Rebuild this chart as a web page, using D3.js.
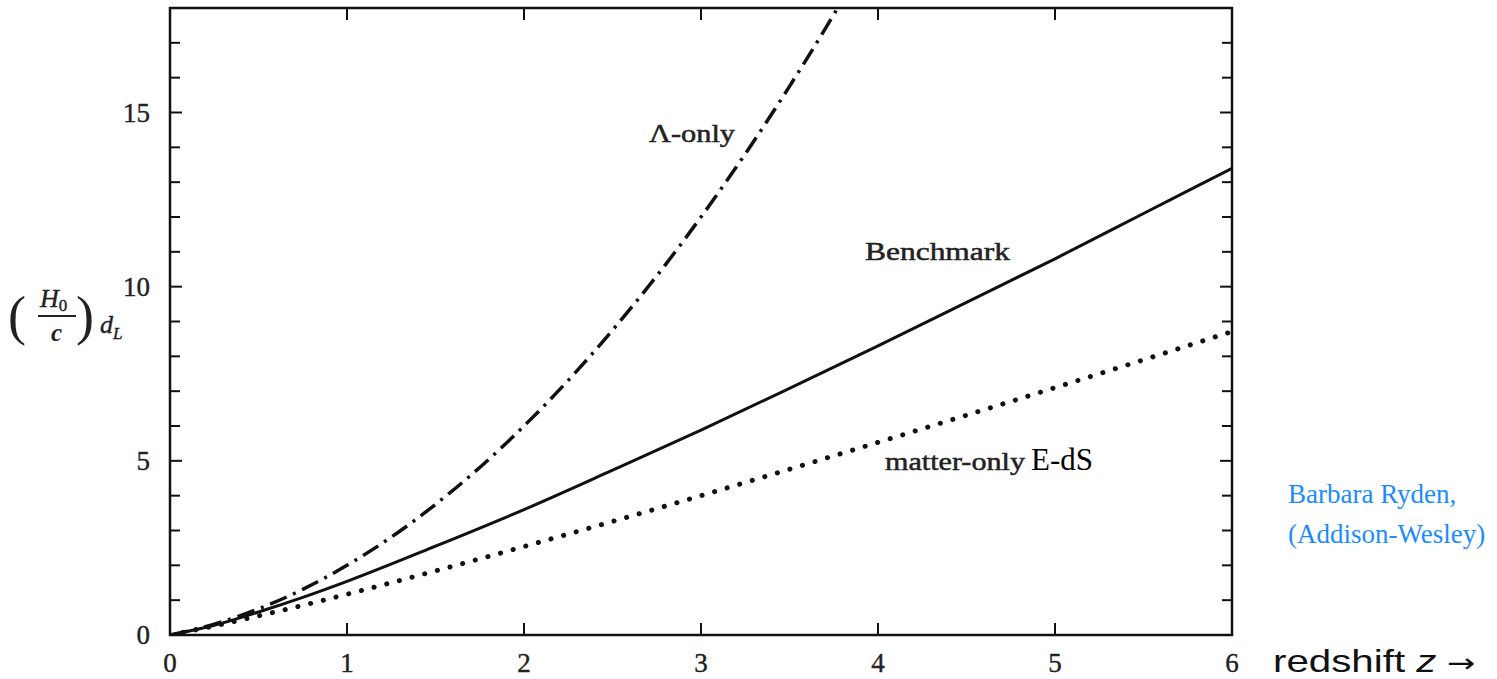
<!DOCTYPE html>
<html>
<head>
<meta charset="utf-8">
<script src="https://cdn.jsdelivr.net/npm/d3@7"></script>
<style>
  body { margin: 0; background: #fff; overflow: hidden; }
  svg { display: block; }
</style>
</head>
<body>
<div id="chart"></div>
<script>
// Data (H0/c) dL against redshift z
var zBench = [0, 0.25, 0.5, 0.75, 1, 1.5, 2, 2.5, 3, 3.5, 4, 4.5, 5, 5.5, 6];
var dBench = [0, 0.28, 0.66, 1.08, 1.54, 2.55, 3.6, 4.73, 5.88, 7.08, 8.3, 9.55, 10.8, 12.1, 13.4];

var zLambda = [0, 0.25, 0.5, 0.75, 1, 1.25, 1.5, 1.75, 2, 2.25, 2.5, 2.75, 3, 3.25, 3.5, 3.75, 3.85];
var dLambda = [0, 0.31, 0.75, 1.31, 2, 2.81, 3.75, 4.81, 6, 7.31, 8.75, 10.31, 12, 13.81, 15.75, 17.81, 18.67];

var zMatter = [0, 0.25, 0.5, 0.75, 1, 1.5, 2, 2.5, 3, 3.5, 4, 4.5, 5, 5.5, 6];
var dMatter = [0, 0.26, 0.55, 0.85, 1.17, 1.84, 2.54, 3.26, 4.0, 4.76, 5.53, 6.31, 7.1, 7.9, 8.71];

var xTicks = [0, 1, 2, 3, 4, 5, 6];
var yTicks = [0, 5, 10, 15];
var yMinor = d3.range(0, 19, 1);

var svgWidth = 1497;
var svgHeight = 679;

var svg = d3.select("#chart").append("svg")
  .attr("width", svgWidth)
  .attr("height", svgHeight);

var x = d3.scaleLinear().domain([0, 6]).range([170, 1232]);
var y = d3.scaleLinear().domain([0, 18]).range([635, 8]);

var serif = "'Liberation Serif', 'DejaVu Serif', serif";

// clip for curves
svg.append("clipPath").attr("id", "plotclip")
  .append("rect")
  .attr("x", x(0)).attr("y", y(18))
  .attr("width", x(6) - x(0)).attr("height", y(0) - y(18));

// frame
svg.append("rect")
  .attr("x", x(0)).attr("y", y(18))
  .attr("width", x(6) - x(0)).attr("height", y(0) - y(18))
  .attr("fill", "none")
  .attr("stroke", "#111")
  .attr("stroke-width", 2.5);

// inner ticks: bottom & top
var tickG = svg.append("g").attr("stroke", "#111").attr("stroke-width", 2);
xTicks.slice(1, -1).forEach(function (t) {
  tickG.append("line").attr("x1", x(t)).attr("x2", x(t)).attr("y1", y(0)).attr("y2", y(0) - 12);
  tickG.append("line").attr("x1", x(t)).attr("x2", x(t)).attr("y1", y(18)).attr("y2", y(18) + 12);
});
// left & right ticks
yMinor.slice(1, -1).forEach(function (t) {
  var len = (t % 5 === 0) ? 12 : 10;
  tickG.append("line").attr("x1", x(0)).attr("x2", x(0) + len).attr("y1", y(t)).attr("y2", y(t));
  tickG.append("line").attr("x1", x(6)).attr("x2", x(6) - len).attr("y1", y(t)).attr("y2", y(t));
});

// tick labels
svg.append("g").selectAll("text").data(xTicks).enter().append("text")
  .attr("x", function (d) { return x(d); })
  .attr("y", 672)
  .attr("text-anchor", "middle")
  .attr("font-family", serif)
  .attr("font-size", "27px")
  .attr("fill", "#222")
  .attr("stroke", "#222").attr("stroke-width", 0.4)
  .text(function (d) { return d; });

svg.append("g").selectAll("text").data(yTicks).enter().append("text")
  .attr("x", 150)
  .attr("y", function (d) { return y(d); })
  .attr("dy", "0.35em")
  .attr("text-anchor", "end")
  .attr("font-family", serif)
  .attr("font-size", "27px")
  .attr("fill", "#222")
  .attr("stroke", "#222").attr("stroke-width", 0.4)
  .text(function (d) { return d; });

// curves
var line = d3.line().x(function (d) { return x(d[0]); }).y(function (d) { return y(d[1]); }).curve(d3.curveMonotoneX);
var curves = svg.append("g").attr("clip-path", "url(#plotclip)");

curves.append("path")
  .datum(d3.zip(zBench, dBench))
  .attr("d", line)
  .attr("fill", "none")
  .attr("stroke", "#111")
  .attr("stroke-width", 3);

curves.append("path")
  .datum(d3.zip(zLambda, dLambda))
  .attr("d", line)
  .attr("fill", "none")
  .attr("stroke", "#111")
  .attr("stroke-width", 3.5)
  .attr("stroke-dasharray", "18 7 3 7");

curves.append("path")
  .datum(d3.zip(zMatter, dMatter))
  .attr("d", line)
  .attr("fill", "none")
  .attr("stroke", "#111")
  .attr("stroke-width", 5)
  .attr("stroke-linecap", "round")
  .attr("stroke-dasharray", "0.1 13");

// curve labels (scanned, slightly heavy and wide)
function label(txt, lx, ly, size, len) {
  var t = svg.append("text")
    .attr("x", lx).attr("y", ly)
    .attr("font-family", serif)
    .attr("font-size", size)
    .attr("fill", "#222")
    .attr("stroke", "#222").attr("stroke-width", 0.5)
    .text(txt);
  if (len) t.attr("textLength", len).attr("lengthAdjust", "spacingAndGlyphs");
  return t;
}
label("\u039B-only", 649, 142, "25px", 86);
label("Benchmark", 865, 260, "25px", 145);
label("matter-only", 885, 470, "25px", 140);

svg.append("text")
  .attr("x", 1031).attr("y", 470)
  .attr("font-family", serif).attr("font-size", "31px").attr("fill", "#000")
  .text("E-dS");

// source note
svg.append("g").selectAll("text")
  .data(["Barbara Ryden,", "(Addison-Wesley)"])
  .enter().append("text")
  .attr("x", 1288)
  .attr("y", function (d, i) { return 503 + i * 40; })
  .attr("font-family", serif)
  .attr("font-size", "27px")
  .attr("fill", "#1a8cff")
  .text(function (d) { return d; });

// x axis title
var xt = svg.append("text")
  .attr("transform", "translate(1273,672) scale(1.3,1)")
  .attr("font-family", "'Liberation Sans', Arial, sans-serif")
  .attr("font-size", "31px")
  .attr("fill", "#111");
xt.append("tspan").text("redshift ");
xt.append("tspan").attr("font-style", "italic").text("z");
xt.append("tspan").attr("font-family", "'DejaVu Sans', sans-serif").attr("font-size", "26px").text(" \u2192");

// y axis title: (H0 / c) dL
var yl = svg.append("g").attr("font-family", serif).attr("fill", "#222");
yl.append("text").attr("x", 8).attr("y", 334).attr("font-size", "54px").text("(");
yl.append("text").attr("x", 76).attr("y", 334).attr("font-size", "54px").text(")");
var h0 = yl.append("text").attr("x", 40).attr("y", 307).attr("font-size", "26px").attr("font-style", "italic")
  .attr("stroke", "#222").attr("stroke-width", 0.4);
h0.append("tspan").text("H");
h0.append("tspan").attr("font-size", "17px").attr("font-style", "normal").attr("dy", 4).text("0");
yl.append("line").attr("x1", 38).attr("x2", 76).attr("y1", 316).attr("y2", 316)
  .attr("stroke", "#222").attr("stroke-width", 2);
yl.append("text").attr("x", 51).attr("y", 341).attr("font-size", "25px").attr("font-style", "italic").attr("font-weight", "bold").text("c");
var dl = yl.append("text").attr("x", 100).attr("y", 333).attr("font-size", "26px").attr("font-style", "italic")
  .attr("stroke", "#222").attr("stroke-width", 0.4);
dl.append("tspan").text("d");
dl.append("tspan").attr("font-size", "17px").attr("dy", 6).text("L");
</script>
</body>
</html>
